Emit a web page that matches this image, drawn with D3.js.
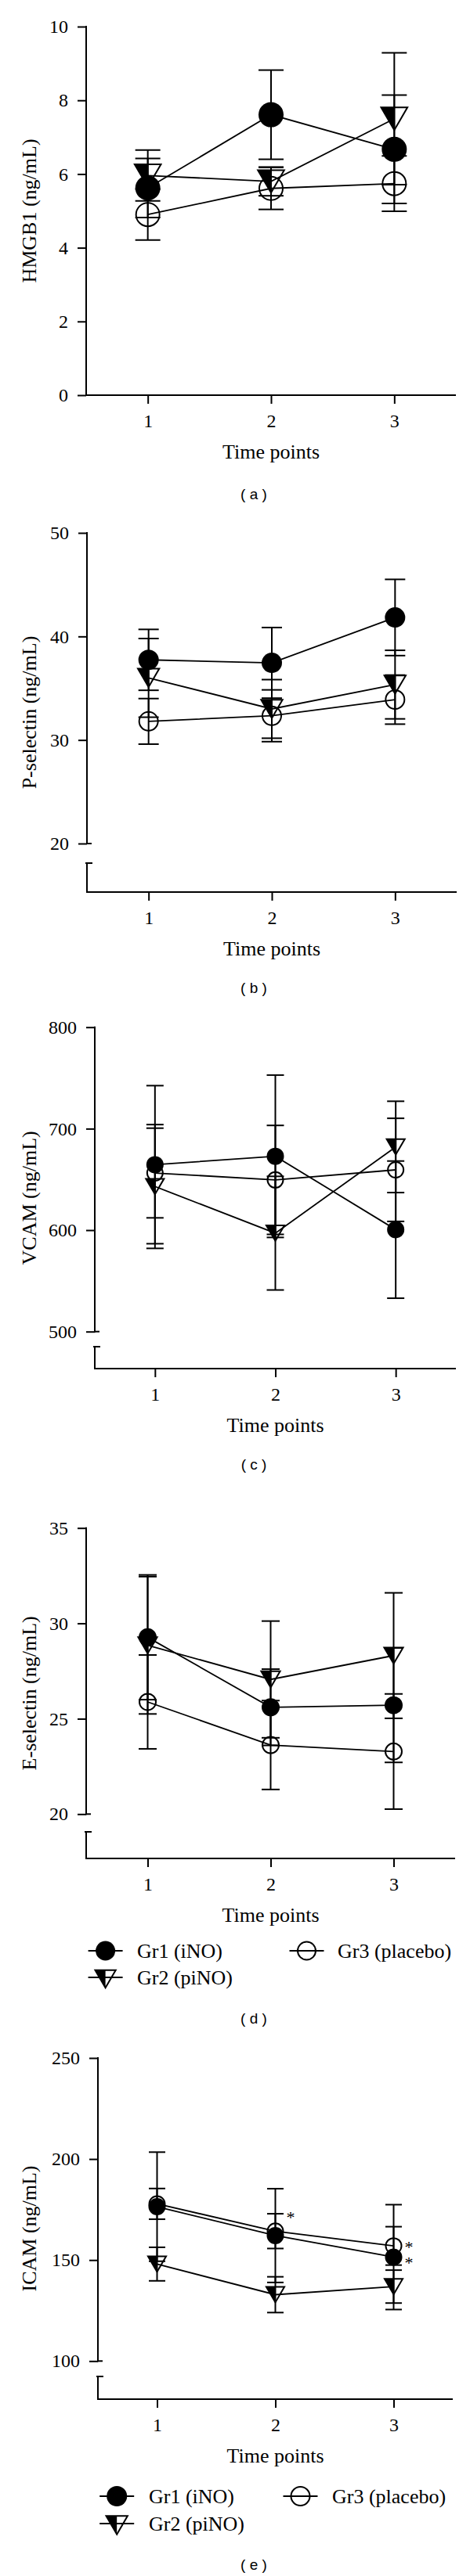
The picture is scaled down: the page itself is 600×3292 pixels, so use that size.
<!DOCTYPE html>
<html><head><meta charset="utf-8">
<script src="https://cdn.jsdelivr.net/npm/d3@7"></script>
<style>body{margin:0;background:#fff}</style>
</head><body>
<svg id="chart" width="600" height="3292"></svg>
<script>
// ---------------- DATA ----------------
const timePoints = [1, 2, 3];
const groupNames = ["Gr1 (iNO)", "Gr2 (piNO)", "Gr3 (placebo)"];
const xTickLabels = ["1", "2", "3"];
const xTitle = "Time points";

// (a) HMGB1
const hmgb1Ticks = [0, 2, 4, 6, 8, 10];
const hmgb1Gr1 = [5.62, 7.61, 6.67], hmgb1Gr1Err = [0.80, 1.21, 1.47];
const hmgb1Gr2 = [5.96, 5.80, 7.50], hmgb1Gr2Err = [0.69, 0.39, 1.79];
const hmgb1Gr3 = [4.90, 5.61, 5.74], hmgb1Gr3Err = [0.69, 0.57, 0.75];

// (b) P-selectin
const pselTicks = [20, 30, 40, 50];
const pselGr1 = [37.74, 37.45, 41.83], pselGr1Err = [2.94, 3.41, 3.68];
const pselGr2 = [36.0, 33.0, 35.35], pselGr2Err = [3.8, 2.83, 3.31];
const pselGr3 = [31.8, 32.34, 33.9], pselGr3Err = [2.2, 2.5, 2.37];

// (c) VCAM
const vcamTicks = [500, 600, 700, 800];
const vcamGr1 = [664.5, 672.8, 600.5], vcamGr1Err = [77.9, 80, 67.6];
const vcamGr2 = [643, 597, 682], vcamGr2Err = [61, 56, 45];
const vcamGr3 = [656.3, 649.5, 659.4], vcamGr3Err = [44.2, 53.7, 50.8];

// (d) E-selectin
const eselTicks = [20, 25, 30, 35];
const eselGr1 = [29.27, 25.6, 25.71], eselGr1Err = [3.27, 2.0, 3.0];
const eselGr2 = [28.85, 27.06, 28.31], eselGr2Err = [3.6, 3.06, 3.29];
const eselGr3 = [25.88, 23.62, 23.28], eselGr3Err = [2.46, 2.33, 3.02];

// (e) ICAM
const icamTicks = [100, 150, 200, 250];
const icamGr1 = [176.4, 162.1, 151.45], icamGr1Err = [27, 23.2, 25.95];
const icamGr2 = [148, 132.85, 136.85], icamGr2Err = [8.3, 8.85, 8.15];
const icamGr3 = [177.8, 164.3, 157.0], icamGr3Err = [7.6, 8.6, 9.5];
const icamStarTimes = [2, 3, 3];
const icamStarValues = [172.1, 157.3, 149.5];

// ---------------- LAYOUT ----------------
const serif = "'Liberation Serif', 'Times New Roman', serif";
const panels = [
  {tag: "( a )", title: "HMGB1 (ng/mL)", domain: [0, 10], ticks: hmgb1Ticks,
   vals: [hmgb1Gr1, hmgb1Gr2, hmgb1Gr3], errs: [hmgb1Gr1Err, hmgb1Gr2Err, hmgb1Gr3Err],
   ax: 110, ae: 582, yt: 34, yb: 505, xa: 505, brk: null, r: 16, cap: 16, tagDy: 126, legend: null},
  {tag: "( b )", title: "P-selectin (ng/mL)", domain: [20, 50], ticks: pselTicks,
   vals: [pselGr1, pselGr2, pselGr3], errs: [pselGr1Err, pselGr2Err, pselGr3Err],
   ax: 111, ae: 583, yt: 681, yb: 1078, xa: 1140, brk: 1103, r: 13, cap: 13, tagDy: 122, legend: null},
  {tag: "( c )", title: "VCAM (ng/mL)", domain: [500, 800], ticks: vcamTicks,
   vals: [vcamGr1, vcamGr2, vcamGr3], errs: [vcamGr1Err, vcamGr2Err, vcamGr3Err],
   ax: 121, ae: 582, yt: 1312.7, yb: 1701.7, xa: 1749, brk: 1721, r: 11, cap: 11, tagDy: 122, legend: null},
  {tag: "( d )", title: "E-selectin (ng/mL)", domain: [20, 35], ticks: eselTicks,
   vals: [eselGr1, eselGr2, eselGr3], errs: [eselGr1Err, eselGr2Err, eselGr3Err],
   ax: 110, ae: 581, yt: 1952.7, yb: 2318.3, xa: 2375, brk: 2341, r: 11.5, cap: 11.5, tagDy: 204,
   legend: {c1: 134.6, c2: 391.5, t1: 175, t2: 431, r1: 118, r2: 152, half: 22, r: 12.5}},
  {tag: "( e )", title: "ICAM (ng/mL)", domain: [100, 250], ticks: icamTicks,
   vals: [icamGr1, icamGr2, icamGr3], errs: [icamGr1Err, icamGr2Err, icamGr3Err],
   ax: 125, ae: 578, yt: 2630, yb: 3017.3, xa: 3066, brk: 3037, r: 11, cap: 10.5, tagDy: 211,
   legend: {c1: 149.2, c2: 383.5, t1: 190, t2: 424, r1: 124, r2: 159, half: 22, r: 13},
   stars: {t: icamStarTimes, v: icamStarValues}}
];

const svg = d3.select("#chart");

function triPath(cx, cy, r) {
  const w = 2.1 * r, h = 1.8 * r;
  const top = cy - h * 0.5, bot = cy + h * 0.5;
  return {full: `M${cx - w/2},${top}L${cx + w/2},${top}L${cx},${bot}Z`,
          half: `M${cx - w/2},${top}L${cx},${top}L${cx},${bot}Z`};
}
function drawMarker(g, k, cx, cy, r) {
  if (k === 0) {
    g.append("circle").attr("cx", cx).attr("cy", cy).attr("r", r).attr("fill", "#000");
  } else if (k === 1) {
    const p = triPath(cx, cy, r);
    g.append("path").attr("d", p.half).attr("fill", "#000");
    g.append("path").attr("d", p.full).attr("fill", "none").attr("stroke", "#000").attr("stroke-width", 2).attr("stroke-linejoin", "miter");
  } else {
    g.append("circle").attr("cx", cx).attr("cy", cy).attr("r", r - 1).attr("fill", "none").attr("stroke", "#000").attr("stroke-width", 2);
  }
}

panels.forEach(P => {
  const g = svg.append("g");
  const x = d3.scaleLinear().domain([0.5, 3.5]).range([P.ax, P.ae]);
  const y = d3.scaleLinear().domain(P.domain).range([P.yb, P.yt]);

  // y axis ticks + labels
  const ya = g.append("g").attr("transform", `translate(${P.ax},0)`)
    .call(d3.axisLeft(y).tickValues(P.ticks).tickSize(11).tickPadding(12).tickFormat(d3.format("d")));
  ya.select(".domain").remove();
  ya.selectAll("line").attr("stroke", "#000").attr("stroke-width", 2);
  ya.selectAll("text").attr("font-family", serif).attr("font-size", 24).attr("fill", "#000");
  // y axis line (with break where the reference shows one)
  if (P.brk === null) {
    g.append("line").attr("x1", P.ax).attr("x2", P.ax).attr("y1", P.yt - 1).attr("y2", P.xa)
      .attr("stroke", "#000").attr("stroke-width", 2);
  } else {
    g.append("line").attr("x1", P.ax).attr("x2", P.ax).attr("y1", P.yt - 1).attr("y2", P.yb + 1)
      .attr("stroke", "#000").attr("stroke-width", 2);
    g.append("line").attr("x1", P.ax).attr("x2", P.ax + 6).attr("y1", P.yb).attr("y2", P.yb)
      .attr("stroke", "#000").attr("stroke-width", 2);
    g.append("line").attr("x1", P.ax).attr("x2", P.ax).attr("y1", P.brk).attr("y2", P.xa)
      .attr("stroke", "#000").attr("stroke-width", 2);
    g.append("line").attr("x1", P.ax - 2).attr("x2", P.ax + 7).attr("y1", P.brk).attr("y2", P.brk)
      .attr("stroke", "#000").attr("stroke-width", 2);
  }
  // x axis
  const xa = g.append("g").attr("transform", `translate(0,${P.xa})`)
    .call(d3.axisBottom(x).tickValues(timePoints).tickSize(11).tickSizeOuter(0).tickPadding(13)
      .tickFormat((d, i) => xTickLabels[i]));
  xa.select(".domain").attr("stroke", "#000").attr("stroke-width", 2)
    .attr("d", `M${P.ax - 1},0H${P.ae}`);
  xa.selectAll("line").attr("stroke", "#000").attr("stroke-width", 2);
  xa.selectAll("text").attr("font-family", serif).attr("font-size", 24).attr("fill", "#000");

  // titles
  g.append("text").attr("transform", `translate(37,${(P.yt + P.xa) / 2}) rotate(-90)`)
    .attr("text-anchor", "middle").attr("dominant-baseline", "central")
    .attr("font-family", serif).attr("font-size", 26).text(P.title);
  g.append("text").attr("x", x(2)).attr("y", P.xa + 81).attr("text-anchor", "middle")
    .attr("font-family", serif).attr("font-size", 26).text(xTitle);
  g.append("text").attr("x", 324).attr("y", P.xa + P.tagDy).attr("text-anchor", "middle")
    .attr("dominant-baseline", "central").attr("font-family", "'Liberation Sans', Arial, sans-serif")
    .attr("font-size", 19).text(P.tag);

  // error bars
  P.vals.forEach((vals, k) => {
    vals.forEach((v, i) => {
      const e = P.errs[k][i], cx = x(timePoints[i]);
      g.append("line").attr("x1", cx).attr("x2", cx).attr("y1", y(v - e)).attr("y2", y(v + e))
        .attr("stroke", "#000").attr("stroke-width", 2);
      [v - e, v + e].forEach(b => g.append("line").attr("x1", cx - P.cap).attr("x2", cx + P.cap)
        .attr("y1", y(b)).attr("y2", y(b)).attr("stroke", "#000").attr("stroke-width", 2));
    });
  });
  // connecting lines
  const line = d3.line().x((d, i) => x(timePoints[i])).y(d => y(d));
  P.vals.forEach(vals => g.append("path").attr("d", line(vals)).attr("fill", "none")
    .attr("stroke", "#000").attr("stroke-width", 1.8));
  // markers
  P.vals.forEach((vals, k) => vals.forEach((v, i) => drawMarker(g, k, x(timePoints[i]), y(v), P.r)));

  // significance stars
  if (P.stars) {
    P.stars.t.forEach((t, i) => g.append("text").attr("x", x(t) + 14).attr("y", y(P.stars.v[i]) + 10)
      .attr("font-family", serif).attr("font-size", 22).text("*"));
  }

  // legend
  if (P.legend) {
    const L = P.legend;
    const items = [{k: 0, cx: L.c1, cy: P.xa + L.r1, tx: L.t1},
                   {k: 1, cx: L.c1, cy: P.xa + L.r2, tx: L.t1},
                   {k: 2, cx: L.c2, cy: P.xa + L.r1, tx: L.t2}];
    items.forEach(it => {
      g.append("line").attr("x1", it.cx - L.half).attr("x2", it.cx + L.half).attr("y1", it.cy).attr("y2", it.cy)
        .attr("stroke", "#000").attr("stroke-width", 2);
      drawMarker(g, it.k, it.cx, it.k === 1 ? it.cy + 2 : it.cy, L.r);
      g.append("text").attr("x", it.tx).attr("y", it.cy).attr("dominant-baseline", "central")
        .attr("font-family", serif).attr("font-size", 26).text(groupNames[it.k]);
    });
  }
});
</script>
</body></html>
